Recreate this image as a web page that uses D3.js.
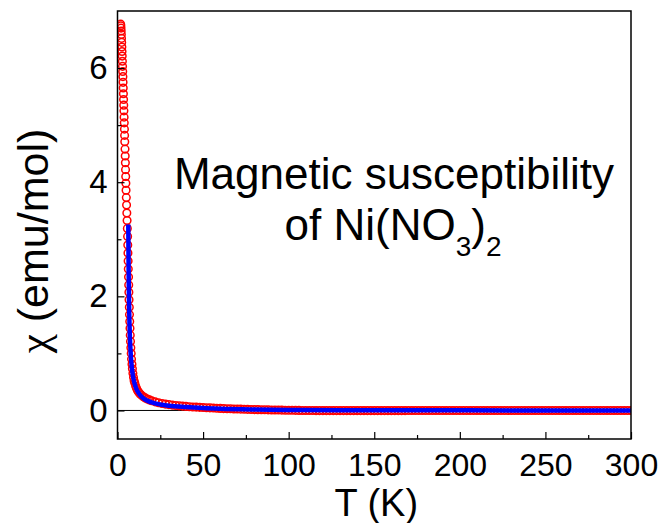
<!DOCTYPE html>
<html>
<head>
<meta charset="utf-8">
<script src="https://cdn.jsdelivr.net/npm/d3@7"></script>
<style>
  body { margin: 0; background: #fff; }
  text { font-family: "Liberation Sans", Arial, sans-serif; fill: #000; }
</style>
</head>
<body>
<div id="chart"></div>
<script>
// measured susceptibility (red open circles)
const dataT = [
  1.85, 1.95, 2.05, 2.15, 2.25, 2.35, 2.45, 2.55, 2.65, 2.75, 2.85, 2.95, 3.05, 3.15, 3.25,
  3.35, 3.45, 3.55, 3.65, 3.75, 3.85, 3.95, 4.05, 4.15, 4.25, 4.4, 4.5, 4.6, 4.7, 4.8,
  4.9, 5.0, 5.15, 5.3, 5.45, 5.6, 5.75, 5.9, 6.0, 6.1, 6.2, 6.3, 6.45, 6.55, 6.65,
  6.75, 6.9, 7.0, 7.15, 7.3, 7.45, 7.6, 7.8, 8.0, 8.2, 8.45, 8.7, 9.0, 9.35, 9.7,
  10.1, 10.6, 11.1, 11.7, 12.4, 13.2, 14.1, 15.1, 16.2, 17.4, 18.7, 20,
  22, 24, 26, 28, 30, 32, 34, 36, 38, 40, 42, 44, 46, 48, 50, 52, 54, 56, 58, 60,
  62, 64, 66, 68, 70, 72, 74, 76, 78, 80, 82, 84, 86, 88, 90, 92, 94, 96, 98, 100,
  102, 104, 106, 108, 110, 112, 114, 116, 118, 120, 122, 124, 126, 128, 130, 132, 134, 136, 138, 140,
  142, 144, 146, 148, 150, 152, 154, 156, 158, 160, 162, 164, 166, 168, 170, 172, 174, 176, 178, 180,
  182, 184, 186, 188, 190, 192, 194, 196, 198, 200, 202, 204, 206, 208, 210, 212, 214, 216, 218, 220,
  222, 224, 226, 228, 230, 232, 234, 236, 238, 240, 242, 244, 246, 248, 250, 252, 254, 256, 258, 260,
  262, 264, 266, 268, 270, 272, 274, 276, 278, 280, 282, 284, 286, 288, 290, 292, 294, 296, 298, 300
];
const dataChi = [
  6.77, 6.74, 6.70, 6.65, 6.59, 6.52, 6.45, 6.37, 6.29, 6.21, 6.12, 6.03, 5.94, 5.85, 5.75,
  5.65, 5.55, 5.45, 5.35, 5.25, 5.14, 5.04, 4.93, 4.82, 4.71, 4.58, 4.46, 4.34, 4.22, 4.10,
  3.98, 3.86, 3.73, 3.60, 3.46, 3.33, 3.19, 3.05, 2.90, 2.76, 2.62, 2.48, 2.34, 2.20, 2.07,
  1.94, 1.81, 1.68, 1.56, 1.44, 1.32, 1.21, 1.10, 1.00, 0.90, 0.81, 0.73, 0.65, 0.58, 0.52,
  0.48, 0.43, 0.39, 0.35, 0.32, 0.29, 0.265, 0.24, 0.22, 0.20, 0.185, 0.17,
  0.15, 0.135, 0.122, 0.112, 0.102, 0.094, 0.087, 0.081, 0.076, 0.071, 0.066, 0.062, 0.058, 0.055, 0.051, 0.048, 0.045, 0.042, 0.039, 0.036,
  0.033, 0.031, 0.029, 0.027, 0.025, 0.023, 0.021, 0.019, 0.017, 0.015, 0.014, 0.013, 0.012, 0.010, 0.009, 0.008, 0.007, 0.006, 0.005, 0.004,
  0.003, 0.002, 0.001, 0.000, 0.000, -0.001, -0.001, -0.002, -0.002, -0.002, -0.002, -0.002, -0.002, -0.002, -0.002, -0.002, -0.002, -0.002, -0.002, -0.002,
  -0.002, -0.002, -0.002, -0.002, -0.002, -0.002, -0.002, -0.002, -0.002, -0.002, -0.002, -0.002, -0.002, -0.002, -0.001, -0.001, -0.001, -0.001, -0.001, -0.001,
  -0.001, -0.001, -0.001, -0.001, -0.001, -0.001, -0.001, -0.001, -0.001, -0.001, -0.001, -0.001, -0.001, -0.001, -0.001, -0.001, -0.001, -0.001, -0.001, -0.001,
  -0.001, -0.001, -0.001, -0.001, -0.001, -0.001, 0.000, 0.000, 0.000, 0.000, 0.000, 0.000, 0.000, 0.000, 0.000, 0.000, 0.000, 0.000, 0.000, 0.000,
  0.000, 0.000, 0.000, 0.000, 0.000, 0.000, 0.000, 0.000, 0.000, 0.000, 0.000, 0.000, 0.000, 0.000, 0.000, 0.000, 0.000, 0.000, 0.000, 0.000
];

// Curie-Weiss fit (blue line)
const fitT = [6.3, 6.4, 6.5, 6.6, 6.7, 6.85, 7.0, 7.2, 7.4, 7.7, 8.0, 8.5, 9, 9.5, 10, 11, 12, 13, 14, 16, 18, 20,
  25, 30, 40, 50, 60, 80, 100, 130, 160, 200, 250, 300];
const fitChi = [3.26, 2.82, 2.46, 2.20, 1.98, 1.73, 1.53, 1.33, 1.17, 1.00, 0.87, 0.72, 0.61, 0.53, 0.47, 0.38, 0.32, 0.276, 0.243, 0.196, 0.164, 0.141,
  0.105, 0.083, 0.059, 0.042, 0.031, 0.018, 0.010, 0.005, 0.003, 0.002, 0.001, 0.000];

const xTicks = [0, 50, 100, 150, 200, 250, 300];
const xMinorTicks = [25, 75, 125, 175, 225, 275];
const yTicks = [0, 2, 4, 6];
const yMinorTicks = [1, 3, 5];

const width = 660, height = 523;
const margin = { top: 11, right: 29, bottom: 84, left: 117.5 };

const svg = d3.select("#chart").append("svg").attr("width", width).attr("height", height);

const x = d3.scaleLinear().domain([0, 300]).range([margin.left, width - margin.right]);
const y = d3.scaleLinear().domain([-0.5, 7]).range([height - margin.bottom, margin.top]);

svg.append("clipPath").attr("id", "plot-clip")
  .append("rect")
  .attr("x", x(0)).attr("y", y(7))
  .attr("width", x(300) - x(0)).attr("height", y(-0.5) - y(7));

const plot = svg.append("g").attr("clip-path", "url(#plot-clip)");

// zero line
plot.append("line")
  .attr("x1", x(0)).attr("x2", x(300))
  .attr("y1", y(0)).attr("y2", y(0))
  .attr("stroke", "#000").attr("stroke-width", 1);

// data circles
plot.append("g")
  .selectAll("circle")
  .data(dataT.map((t, i) => [t, dataChi[i]]))
  .join("circle")
  .attr("cx", d => x(d[0]))
  .attr("cy", d => y(d[1]))
  .attr("r", 3.8)
  .attr("fill", "none")
  .attr("stroke", "#ff0000")
  .attr("stroke-width", 1.5);

// fit line
const line = d3.line().x(d => x(d[0])).y(d => y(d[1])).curve(d3.curveMonotoneX);
plot.append("path")
  .datum(fitT.map((t, i) => [t, fitChi[i]]))
  .attr("d", line)
  .attr("fill", "none")
  .attr("stroke", "#0000ff")
  .attr("stroke-width", 4.5);

// axes with inward ticks
const xAxis = svg.append("g").attr("transform", `translate(0,${y(-0.5)})`)
  .call(d3.axisBottom(x).tickValues(xTicks).tickSizeInner(-7).tickSizeOuter(0).tickPadding(14));
svg.append("g").attr("transform", `translate(0,${y(-0.5)})`)
  .call(d3.axisBottom(x).tickValues(xMinorTicks).tickSizeInner(-4).tickSizeOuter(0).tickFormat(""));
const yAxis = svg.append("g").attr("transform", `translate(${x(0)},0)`)
  .call(d3.axisLeft(y).tickValues(yTicks).tickSizeInner(-7).tickSizeOuter(0).tickPadding(10));
svg.append("g").attr("transform", `translate(${x(0)},0)`)
  .call(d3.axisLeft(y).tickValues(yMinorTicks).tickSizeInner(-4).tickSizeOuter(0).tickFormat(""));

svg.selectAll(".domain").remove();
svg.selectAll(".tick line").attr("stroke", "#000").attr("stroke-width", 1.2);
xAxis.selectAll("text").style("font-size", "32px").attr("dy", "0.72em");
yAxis.selectAll("text").style("font-size", "33px");

// frame
svg.append("rect")
  .attr("x", x(0)).attr("y", y(7))
  .attr("width", x(300) - x(0)).attr("height", y(-0.5) - y(7))
  .attr("fill", "none").attr("stroke", "#000").attr("stroke-width", 1.5);

// axis titles
svg.append("text")
  .attr("x", (x(0) + x(300)) / 2 + 2)
  .attr("y", 516)
  .attr("text-anchor", "middle")
  .style("font-size", "38px")
  .text("T (K)");

const yTitle = svg.append("text")
  .attr("transform", `translate(48,241) rotate(-90)`)
  .attr("text-anchor", "middle")
  .style("font-size", "43px");
yTitle.append("tspan").style("font-family", "'Liberation Serif', serif").text("χ");
yTitle.append("tspan").text(" (emu/mol)");

// annotation
svg.append("text")
  .attr("x", 394).attr("y", 189)
  .attr("text-anchor", "middle")
  .style("font-size", "44px")
  .text("Magnetic susceptibility");

const t2 = svg.append("text")
  .attr("x", 393).attr("y", 240)
  .attr("text-anchor", "middle")
  .style("font-size", "44px");
t2.append("tspan").text("of Ni(NO");
t2.append("tspan").attr("dy", 16).style("font-size", "28px").text("3");
t2.append("tspan").attr("dy", -16).text(")");
t2.append("tspan").attr("dy", 16).style("font-size", "28px").text("2");
</script>
</body>
</html>
